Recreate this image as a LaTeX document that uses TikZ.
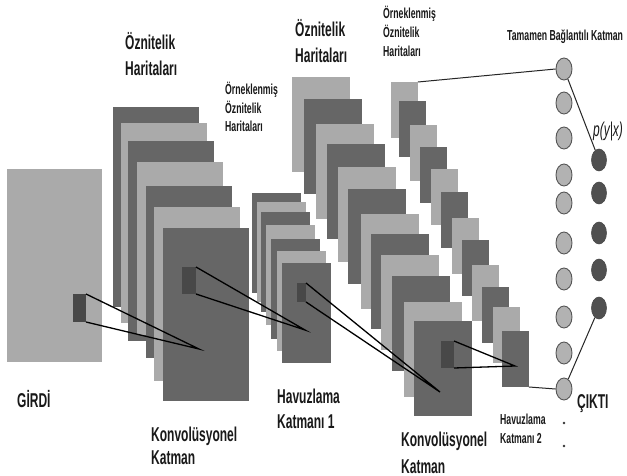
\documentclass[tikz,border=0pt]{standalone}
\usepackage{fontspec}
\usetikzlibrary{shapes.geometric}
\newfontfamily\labfont{Liberation Sans}[FakeStretch=0.6]
\definecolor{lg}{RGB}{170,170,170}
\definecolor{dg}{RGB}{102,102,102}
\definecolor{sq}{RGB}{72,72,72}
\definecolor{fcfill}{RGB}{178,178,178}
\definecolor{fcdraw}{RGB}{85,85,85}
\definecolor{outfill}{RGB}{80,80,80}
\definecolor{txt}{RGB}{25,25,25}
\tikzset{
  fmap/.style={draw=none, inner sep=0pt, outer sep=0pt, anchor=north west},
  sqbox/.style={fill=sq, draw=none, inner sep=0pt, outer sep=0pt, anchor=north west},
  conn/.style={draw=black, line width=1.3pt},
  thin conn/.style={draw=black!85, line width=1pt},
  fcnode/.style={ellipse, fill=fcfill, draw=fcdraw, line width=0.9pt, minimum width=16pt, minimum height=22pt, inner sep=0pt},
  outnode/.style={ellipse, fill=outfill, draw=black!70, line width=0.6pt, minimum width=15pt, minimum height=22pt, inner sep=0pt},
  bigtxt/.style={anchor=base west, inner sep=0pt, text=txt, font=\labfont\bfseries\fontsize{20}{24}\selectfont},
  smalltxt/.style={anchor=base west, inner sep=0pt, text=txt, font=\labfont\bfseries\fontsize{14.5}{17}\selectfont},
  dotnode/.style={circle, fill=black!80, inner sep=0pt, minimum size=2.6pt},
}
\begin{document}
\begin{tikzpicture}[x=1pt, y=-1pt]
\useasboundingbox[fill=white] (0,0) rectangle (627,476);

% input
\node[fmap, fill=lg, minimum width=95pt, minimum height=193pt] (input) at (7,169) {};
\node[sqbox, minimum width=13pt, minimum height=28pt] (insq) at (73,294) {};

% conv layer 1 stack
\foreach \i/\x/\y/\c/\h in {1/113/107/dg/200, 2/121/123/lg/200, 3/128/141/dg/200, 4/137/162/lg/173, 5/146/186/dg/172, 6/154/207/lg/174, 7/163/228/dg/173}
  \node[fmap, fill=\c, minimum width=86pt, minimum height=\h pt] (c1r\i) at (\x,\y) {};
\node[sqbox, minimum width=14pt, minimum height=27pt] (c1sq) at (182,267) {};

% pooling layer 1 stack
\foreach \i/\x/\y/\c in {1/252/193/dg, 2/257/202/lg, 3/261/212/dg, 4/266/225/lg, 5/271/239/dg, 6/277/251/lg, 7/282/263/dg}
  \node[fmap, fill=\c, minimum width=49pt, minimum height=100pt] (p1r\i) at (\x,\y) {};
\node[sqbox, minimum width=9pt, minimum height=19pt] (p1sq) at (297,283) {};

% conv layer 2 stack
\foreach \i/\x/\y/\c in {1/292/77/lg, 2/304/99/dg, 3/316/124/lg, 4/327/144/dg, 5/338/167/lg, 6/348/189/dg, 7/361/214/lg, 8/371/234/dg, 9/381/255/lg, 10/392/276/dg, 11/404/302/lg, 12/414/321/dg}
  \node[fmap, fill=\c, minimum width=58pt, minimum height=95pt] (c2r\i) at (\x,\y) {};
\node[sqbox, minimum width=13pt, minimum height=27pt] (c2sq) at (441,341) {};

% pooling layer 2 stack
\foreach \i/\x/\y/\c in {1/391/82/lg, 2/399/101/dg, 3/410/125/lg, 4/420/147/dg, 5/431/169/lg, 6/441/192/dg, 7/452/218/lg, 8/462/240/dg, 9/472/265/lg, 10/482/287/dg, 11/493/307/lg, 12/502/331/dg}
  \node[fmap, fill=\c, minimum width=27pt, minimum height=56pt] (p2r\i) at (\x,\y) {};

% apex points
\coordinate (a1) at (199,349);
\coordinate (a2) at (305,330);
\coordinate (a3) at (440,392);
\coordinate (a4) at (515,366);

% receptive field lines
\draw[conn] (insq.north east) -- (a1) -- (insq.south east);
\draw[conn] (c1sq.north east) -- (a2) -- (c1sq.south east);
\draw[conn] (p1sq.north east) -- (a3) -- (p1sq.south east);
\draw[conn] (c2sq.north east) -- (a4) -- (c2sq.south east);

% fully connected layer
\foreach \i/\y in {1/69, 2/103, 3/138, 4/175, 5/203, 6/243, 7/279, 8/317, 9/353, 10/389}
  \node[fcnode] (fc\i) at (564,\y) {};
% output layer
\foreach \i/\y in {1/160, 2/193, 3/233, 4/270, 5/308}
  \node[outnode] (out\i) at (599,\y) {};

\draw[thin conn] (p2r1.north east) -- (fc1.west);
\draw[thin conn] (fc1) -- (out1);
\draw[thin conn] (p2r12.south east) -- (fc10.west);
\draw[thin conn] (fc10) -- (out5);

\node[dotnode] (dot1) at (564,423) {};
\node[dotnode] (dot2) at (564,446) {};

% labels
\node[bigtxt] (t1a) at (125,50) {Öznitelik};
\node[bigtxt] (t1b) at (125,76) {Haritaları};
\node[bigtxt] (t2a) at (295,37) {Öznitelik};
\node[bigtxt] (t2b) at (295,63) {Haritaları};
\node[smalltxt] (t3a) at (225,95) {Örneklenmiş};
\node[smalltxt] (t3b) at (225,114) {Öznitelik};
\node[smalltxt] (t3c) at (225,132) {Haritaları};
\node[smalltxt] (t4a) at (383,19) {Örneklenmiş};
\node[smalltxt] (t4b) at (383,38) {Öznitelik};
\node[smalltxt] (t4c) at (383,57) {Haritaları};
\node[smalltxt] (t5) at (507,41) {Tamamen Bağlantılı Katman};
\node[anchor=base west, inner sep=0pt, text=txt, font=\labfont\itshape\fontsize{20}{24}\selectfont] (t6) at (593,137) {p(y|x)};
\node[bigtxt] (t7) at (17,407) {GİRDİ};
\node[bigtxt] (t8a) at (151,441) {Konvolüsyonel};
\node[bigtxt] (t8b) at (151,464) {Katman};
\node[bigtxt] (t9a) at (277,403) {Havuzlama};
\node[bigtxt] (t9b) at (277,428) {Katmanı 1};
\node[bigtxt] (t10a) at (401,446) {Konvolüsyonel};
\node[bigtxt] (t10b) at (401,473) {Katman};
\node[smalltxt] (t11a) at (500,424) {Havuzlama};
\node[smalltxt] (t11b) at (500,443) {Katmanı 2};
\node[bigtxt] (t12) at (577,408) {ÇIKTI};
\end{tikzpicture}
\end{document}
